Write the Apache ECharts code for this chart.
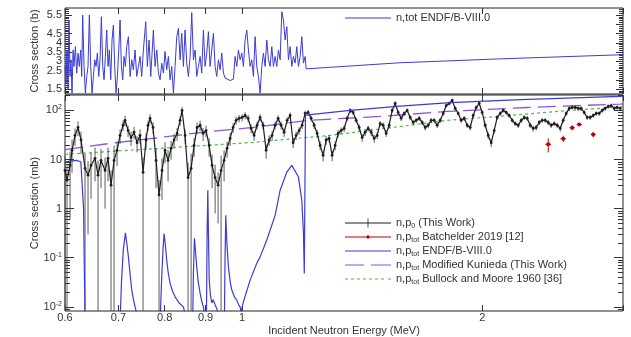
<!DOCTYPE html>
<html lang="en">
<head>
<meta charset="UTF-8">
<title>n,p cross section</title>
<script src="https://cdn.jsdelivr.net/npm/echarts@6.0.0/dist/echarts.min.js"></script>
<style>
  html, body { margin: 0; padding: 0; background: #fff; }
  #chart { width: 631px; height: 337px; }
</style>
</head>
<body>
<div id="chart"></div>
<script>
// top pad: n,tot ENDF/B-VIII.0, energy (MeV) and cross section (b)
const totEnergy = [
  0.6001, 0.6018, 0.6035, 0.6053, 0.6070, 0.6088, 0.6105, 0.6123, 0.6141, 0.6158,
  0.6182, 0.6206, 0.6230, 0.6253, 0.6278, 0.6296, 0.6314, 0.6339, 0.6363, 0.6388,
  0.6412, 0.6437, 0.6462, 0.6487, 0.6512, 0.6537, 0.6562, 0.6587, 0.6613, 0.6638,
  0.6664, 0.6690, 0.6715, 0.6741, 0.6767, 0.6793, 0.6819, 0.6846, 0.6872, 0.6899,
  0.6925, 0.6952, 0.6979, 0.7006, 0.7033, 0.7060, 0.7087, 0.7114, 0.7142, 0.7169,
  0.7204, 0.7239, 0.7274, 0.7308, 0.7344, 0.7379, 0.7415, 0.7450, 0.7486, 0.7522,
  0.7573, 0.7609, 0.7646, 0.7683, 0.7713, 0.7742, 0.7780, 0.7818, 0.7855, 0.7893,
  0.7931, 0.7969, 0.8007, 0.8046, 0.8085, 0.8124, 0.8163, 0.8203, 0.8242, 0.8282,
  0.8322, 0.8362, 0.8402, 0.8443, 0.8483, 0.8524, 0.8565, 0.8607, 0.8648, 0.8690,
  0.8732, 0.8774, 0.8816, 0.8859, 0.8901, 0.8944, 0.8987, 0.9031, 0.9074, 0.9118,
  0.9162, 0.9206, 0.9251, 0.9295, 0.9340, 0.9385, 0.9430, 0.9476, 0.9521, 0.9567,
  0.9660, 0.9753, 0.9800, 0.9847, 0.9895, 0.9942, 0.9991, 1.0038, 1.0087, 1.0136,
  1.0184, 1.0234, 1.0283, 1.0332, 1.0382, 1.0432, 1.0482, 1.0533, 1.0584, 1.0635,
  1.0686, 1.0738, 1.0789, 1.0842, 1.0894, 1.0946, 1.0999, 1.1052, 1.1105, 1.1159,
  1.1213, 1.1266, 1.1321, 1.1376, 1.1430, 1.1486, 1.1541, 1.1596, 1.1652, 1.1709,
  1.1765, 1.1822, 1.1879, 1.1936, 1.1994, 1.2028, 1.2063, 1.5776, 2.1053, 2.976,
  3.0
];
const totSigma = [
  2.72, 1.82, 3.61, 1.46, 5.23, 2.18, 3.08, 1.28, 3.61, 2.72,
  3.79, 2.36, 3.44, 2.72, 3.61, 2.18, 5.50, 2.72, 1.28, 2.18,
  2.72, 5.50, 2.72, 1.28, 2.18, 3.08, 2.72, 3.44, 2.18, 3.08,
  5.41, 2.72, 2.00, 3.26, 4.69, 2.72, 3.61, 2.00, 4.15, 4.96,
  2.72, 1.28, 2.18, 3.61, 5.23, 2.72, 2.00, 3.26, 2.72, 3.79,
  4.33, 2.18, 3.08, 2.54, 3.61, 2.18, 2.72, 3.26, 2.18, 3.61,
  5.14, 2.72, 4.15, 2.18, 3.44, 4.69, 2.72, 3.61, 2.36, 2.00,
  2.90, 2.36, 3.53, 2.54, 3.26, 2.00, 2.72, 1.28, 2.72, 4.33,
  4.78, 3.08, 4.51, 2.72, 4.69, 2.90, 2.18, 3.26, 5.63, 3.08,
  3.61, 2.18, 2.72, 3.26, 2.36, 4.69, 2.72, 3.44, 4.60, 2.72,
  3.61, 4.51, 2.72, 2.18, 3.08, 2.54, 3.44, 2.36, 2.09, 2.00,
  1.96, 2.03, 3.26, 2.72, 3.61, 3.08, 3.44, 2.72, 4.15, 4.69,
  3.61, 2.72, 3.08, 2.18, 4.33, 2.72, 2.18, 1.28, 2.72, 3.44,
  2.72, 4.15, 3.08, 2.72, 3.79, 2.72, 3.26, 2.72, 3.61, 3.08,
  5.68, 5.23, 4.15, 4.87, 3.08, 3.79, 2.72, 3.26, 2.90, 3.79,
  2.72, 3.26, 4.33, 2.90, 3.26, 2.59, 2.59, 2.92, 3.13, 3.35,
  3.35
];

// bottom pad: n,p0 (This Work), energy (MeV), cross section and error (mb)
const npEnergy = [
  0.600, 0.6035, 0.6088, 0.6123, 0.6176, 0.6230, 0.6284, 0.6357, 0.6412, 0.6468,
  0.6543, 0.6600, 0.6657, 0.6735, 0.6793, 0.6852, 0.6912, 0.6972, 0.7033, 0.7094,
  0.7135, 0.7197, 0.7259, 0.7322, 0.7386, 0.7450, 0.7515, 0.7580, 0.7624, 0.7668,
  0.7735, 0.7802, 0.7870, 0.7938, 0.8007, 0.8077, 0.8148, 0.8218, 0.8290, 0.8362,
  0.8410, 0.8483, 0.8557, 0.8632, 0.8707, 0.8782, 0.8859, 0.8936, 0.9013, 0.9092,
  0.9171, 0.9251, 0.9331, 0.9412, 0.9494, 0.9576, 0.9660, 0.9744, 0.9828, 0.9914,
  1.0000, 1.0087, 1.0175, 1.0263, 1.0352, 1.0442, 1.0533, 1.0625, 1.0717, 1.0810,
  1.0904, 1.0999, 1.1095, 1.1191, 1.1288, 1.1386, 1.1486, 1.1585, 1.1686, 1.1788,
  1.1890, 1.1994, 1.2098, 1.2203, 1.2309, 1.2416, 1.2524, 1.2633, 1.2743, 1.2853,
  1.2965, 1.3078, 1.3192, 1.3306, 1.3422, 1.3538, 1.3656, 1.3775, 1.3895, 1.4016,
  1.4138, 1.4260, 1.4384, 1.4510, 1.4636, 1.4763, 1.4891, 1.5021, 1.5151, 1.5283,
  1.5416, 1.5550, 1.5685, 1.5821, 1.5959, 1.6098, 1.6238, 1.6379, 1.6522, 1.6665,
  1.6810, 1.6956, 1.7103, 1.7252, 1.7402, 1.7553, 1.7707, 1.7860, 1.8016, 1.8172,
  1.8330, 1.8490, 1.8650, 1.8813, 1.8976, 1.9141, 1.9307, 1.9475, 1.9645, 1.9815,
  1.9986, 2.0160, 2.0336, 2.0512, 2.0691, 2.0871, 2.1053, 2.1235, 2.1420, 2.1606,
  2.1794, 2.1983, 2.2174, 2.2366, 2.2561, 2.2757, 2.2955, 2.3154, 2.3355, 2.3558,
  2.3763, 2.3969, 2.4178, 2.4388, 2.4600, 2.4813, 2.5032, 2.5247, 2.5466, 2.5688,
  2.5911, 2.6136, 2.6363, 2.6592, 2.6823, 2.7056, 2.7291, 2.7528, 2.7767, 2.8008,
  2.8252, 2.8497, 2.8745, 2.8994, 2.9246, 2.9500, 2.9763
];
const npSigma = [
  6.0, 3.8, 7.6, 15.4, 31, 45, 25, 6.6, 4.8, 7.6,
  10.6, 4.8, 9.6, 6.0, 10.6, 3.0, 9.6, 15.4, 31, 50,
  63, 39, 28, 36, 22, 31, 5.5, 25, 50, 69,
  45, 9.6, 1.9, 6.0, 15.4, 9.6, 16.9, 25, 34, 63,
  100, 31, 4.3, 6.6, 19.4, 45, 50, 34, 39, 19.4,
  7.6, 4.3, 3.0, 6.0, 9.6, 16.9, 27, 45, 63, 69,
  72, 79, 69, 43, 31, 50, 72, 50, 15.4, 25,
  31, 50, 69, 50, 36, 63, 79, 22, 31, 39,
  50, 87, 91, 69, 50, 34, 19.4, 12.2, 25, 27,
  12.2, 19.4, 34, 39, 43, 69, 100, 91, 63, 45,
  28, 36, 43, 36, 27, 31, 54, 50, 34, 50,
  100, 139, 91, 69, 87, 100, 72, 57, 63, 69,
  57, 45, 50, 63, 63, 50, 63, 87, 126, 139,
  160, 110, 87, 63, 69, 50, 45, 79, 115, 139,
  91, 50, 31, 22, 39, 72, 87, 100, 91, 79,
  63, 54, 50, 63, 72, 69, 50, 43, 45, 57,
  63, 63, 57, 50, 54, 50, 43, 63, 87, 110,
  115, 115, 110, 110, 91, 72, 72, 79, 87, 87,
  100, 110, 121, 126, 110, 115, 110
];
const npError = [
  6.0, 3.8, 7.0, 10, 12, 15, 12, 6.6, 4.5, 6,
  7, 4.8, 7, 5, 7, 3.0, 9.6, 8, 10, 12,
  15, 10, 9, 10, 8, 10, 5.5, 9, 12, 15,
  12, 7, 1.9, 4.5, 7, 6, 7, 8, 10, 14,
  18, 10, 4.3, 6.6, 8, 12, 12, 10, 10, 8,
  5, 3.5, 2.5, 6.0, 6, 6, 8, 10, 12, 12,
  12, 13, 12, 9, 7, 9, 12, 9, 5, 6,
  7, 9, 11, 9, 7, 10, 12, 5, 6, 7,
  8, 12, 12, 10, 8, 6, 4, 3, 5, 5,
  3, 4, 6, 6, 7, 9, 12, 11, 8, 7,
  5, 6, 6, 6, 5, 5, 7, 7, 5, 7,
  11, 14, 10, 8, 9, 10, 8, 7, 7, 8,
  7, 6, 6, 7, 7, 6, 7, 9, 12, 13,
  15, 11, 9, 7, 8, 6, 6, 8, 11, 13,
  9, 6, 5, 4, 5, 8, 9, 10, 9, 8,
  7, 6, 6, 7, 8, 8, 6, 6, 6, 7,
  7, 7, 7, 6, 6, 6, 6, 7, 9, 11,
  11, 11, 11, 11, 9, 8, 8, 8, 9, 9,
  10, 11, 12, 12, 11, 11, 11
];

// n,ptot Batchelder 2019
const batEnergy = [2.418, 2.525, 2.591, 2.644, 2.753];
const batSigma = [20.5, 26.6, 44.5, 51.9, 32.5];
const batError = [6.5, 4, 5, 4, 4];
const batEnergyError = [0.02, 0.02, 0.02, 0.02, 0.02];

// n,ptot ENDF/B-VIII.0
const endfEnergy = [
  0.600, 0.610, 0.620, 0.628, 0.6314, 0.6330, 0.6345, 0.636,
  0.703, 0.706, 0.710, 0.7142, 0.717, 0.7204, 0.724, 0.7274, 0.731, 0.7344, 0.740,
  0.789, 0.7925, 0.796, 0.7985, 0.801, 0.8046, 0.808, 0.8124, 0.818, 0.8242, 0.834, 0.8443, 0.850,
  0.867, 0.869, 0.8715, 0.874, 0.8774, 0.881, 0.8859, 0.890, 0.8944, 0.898,
  0.9020, 0.9040, 0.9058, 0.9075, 0.9095, 0.9125, 0.9162, 0.920, 0.925, 0.930, 0.935,
  0.950, 0.952, 0.954, 0.957, 0.9613, 0.966, 0.9707, 0.978, 0.9847, 0.990, 0.9942, 0.997,
  1.0038, 1.0234, 1.0432, 1.0533, 1.0738, 1.0999, 1.1159, 1.1376, 1.1541, 1.1765, 1.1879, 1.1936, 1.1965, 1.199,
  1.2005, 1.2063, 1.3656, 1.5776, 1.8224, 2.2304, 2.976, 3.0
];
const endfSigma = [
  9.0, 9.3, 9.6, 9.0, 8.4, 1.0, 0.05, 0.004,
  0.004, 0.03, 0.15, 0.32, 0.2, 0.104, 0.045, 0.022, 0.014, 0.010, 0.006,
  0.004, 0.03, 0.15, 0.31, 0.2, 0.089, 0.05, 0.030, 0.021, 0.016, 0.012, 0.010, 0.006,
  0.004, 0.05, 0.25, 0.14, 0.065, 0.033, 0.019, 0.013, 0.010, 0.006,
  0.004, 0.3, 2.37, 0.3, 0.035, 0.018, 0.012, 0.014, 0.011, 0.009, 0.006,
  0.004, 0.1, 0.73, 0.2, 0.065, 0.033, 0.022, 0.016, 0.0137, 0.011, 0.010, 0.008,
  0.0127, 0.035, 0.077, 0.104, 0.23, 0.73, 2.37, 5.57, 7.6, 4.4, 1.48, 0.31, 0.048, 0.05,
  80, 81, 100, 123, 145, 167, 193, 195
];

// n,ptot Modified Kunieda (This Work)
const kunEnergy = [0.600, 0.6833, 0.7893, 0.9118, 1.0323, 1.2063, 1.4891, 1.8067, 2.2757, 2.976, 3.0];
const kunSigma = [16, 21.3, 28.2, 37.4, 45.1, 62.7, 75.6, 95.4, 115, 135, 136];

// n,ptot Bullock and Moore 1960
const bulEnergy = [0.600, 0.7893, 1.0323, 1.2891, 1.8067, 2.5766, 3.0];
const bulSigma = [12.8, 16.9, 22.4, 31.1, 62.6, 100, 120];

// tick labels
const xTickValues = [0.6, 0.7, 0.8, 0.9, 1, 2, 3];
const xLabelValues = [0.6, 0.7, 0.8, 0.9, 1, 2];
const topLabelValues = [1.5, 2, 2.5, 3, 3.5, 4, 4.5, 5, 5.5];
const decadeValues = [-2, -1, 0, 1, 2];

const NAME_TOT = 'n,tot ENDF/B-VIII.0';
const NAME_NP0 = 'n,p0 (This Work)';
const NAME_BAT = 'n,ptot Batchelder 2019 [12]';
const NAME_ENDF = 'n,ptot ENDF/B-VIII.0';
const NAME_KUN = 'n,ptot Modified Kunieda (This Work)';
const NAME_BUL = 'n,ptot Bullock and Moore 1960 [36]';

const FONT = 'Liberation Sans, Arial, Helvetica, sans-serif';
const INK = '#333';
const BLACK = '#1e1e1e', BAR = '#4a4a4a', RED = '#c00000', BLUE = '#3c3cd2', PURPLE = '#8c55e0', GREEN = '#46be46';

const lg = Math.log10;
const X_MIN = lg(0.6), X_MAX = lg(3);
const Y_MIN = -2.085, Y_MAX = 2.315;
const T_MIN = 1.23, T_MAX = 5.88;

const topMinor = [];
for (let v = 13; v <= 58; v++) topMinor.push(v / 10);
const logMinor = [];
for (let n = -3; n <= 2; n++) {
  for (let k = 2; k <= 9; k++) {
    const v = n + lg(k);
    if (v > Y_MIN && v < Y_MAX) logMinor.push(v);
  }
}

const linPts = (xs, ys) => xs.map((x, i) => [lg(x), ys[i]]);
const logPts = (xs, ys) => xs.map((x, i) => [lg(x), lg(ys[i])]);
const lowEnd = v => v > 0 ? Math.max(lg(v), Y_MIN) : Y_MIN;

const npBars = npEnergy.map((x, i) => [lg(x), lowEnd(npSigma[i] - npError[i]), lg(npSigma[i] + npError[i])]);
const batBars = batEnergy.map((x, i) => [
  lg(x), lg(batSigma[i]),
  lg(batSigma[i] - batError[i]), lg(batSigma[i] + batError[i]),
  lg(x - batEnergyError[i]), lg(x + batEnergyError[i])
]);

function tickStyle(values, len) {
  return { show: true, inside: true, length: len, customValues: values, lineStyle: { color: INK, width: 1 } };
}

function xAxisFor(grid, pos, withLabels) {
  const ax = {
    gridIndex: grid, type: 'value', position: pos, min: X_MIN, max: X_MAX,
    axisLine: { show: false, onZero: false },
    splitLine: { show: false },
    axisTick: tickStyle(xTickValues.map(lg), 6),
    axisLabel: { show: false }
  };
  if (withLabels) {
    ax.axisLabel = {
      show: true, customValues: xLabelValues.map(lg),
      formatter: v => String(+Math.pow(10, v).toFixed(1)),
      color: INK, fontSize: 11, fontFamily: FONT, margin: 1,
      showMinLabel: true, showMaxLabel: true
    };
    ax.name = 'Incident Neutron Energy (MeV)';
    ax.nameLocation = 'middle';
    ax.nameGap = 13;
    ax.nameMoveOverlap = false;
    ax.nameTextStyle = { color: INK, fontSize: 11, fontFamily: FONT, verticalAlign: 'top', lineHeight: 13 };
  }
  return ax;
}

function yAxisFor(grid, pos, min, max, values, len, label, name) {
  const ax = {
    gridIndex: grid, type: 'value', position: pos, min: min, max: max,
    axisLine: { show: false, onZero: false },
    splitLine: { show: false },
    axisTick: tickStyle(values, len),
    axisLabel: { show: false }
  };
  if (label) ax.axisLabel = label;
  if (name) {
    ax.name = name;
    ax.nameLocation = 'middle';
    ax.nameGap = 25;
    ax.nameMoveOverlap = false;
    ax.nameTextStyle = { color: INK, fontSize: 11, fontFamily: FONT };
  }
  return ax;
}

const topLabel = {
  show: true, customValues: topLabelValues, formatter: v => String(v),
  color: INK, fontSize: 11, fontFamily: FONT, margin: 3,
  showMinLabel: true, showMaxLabel: true, hideOverlap: false
};
const decadeLabel = {
  show: true, customValues: decadeValues,
  formatter: v => {
    const n = Math.round(v);
    if (n === 0) return '1';
    if (n === 1) return '10';
    return '10{sup|' + n + '}';
  },
  color: INK, fontSize: 11, fontFamily: FONT, margin: 3, lineHeight: 13,
  showMinLabel: true, showMaxLabel: true,
  rich: { sup: { fontSize: 7, lineHeight: 7, verticalAlign: 'top', color: INK, fontFamily: FONT } }
};

const legendText = {
  color: INK, fontSize: 11, fontFamily: FONT, lineHeight: 14,
  rich: { sub: { fontSize: 7, lineHeight: 6, verticalAlign: 'bottom', color: INK, fontFamily: FONT } }
};

const gridBase = {
  left: 65, width: 558, show: true, borderColor: '#222', borderWidth: 1,
  backgroundColor: 'transparent', containLabel: false, outerBoundsMode: 'none'
};

const chart = echarts.init(document.getElementById('chart'));
chart.setOption({
  animation: false,
  backgroundColor: '#fff',
  textStyle: { fontFamily: FONT },
  grid: [
    Object.assign({ top: 8, height: 86 }, gridBase),
    Object.assign({ top: 95, height: 216 }, gridBase)
  ],
  xAxis: [
    xAxisFor(0, 'bottom', false),
    xAxisFor(0, 'top', false),
    xAxisFor(1, 'bottom', true),
    xAxisFor(1, 'top', false)
  ],
  yAxis: [
    yAxisFor(0, 'left', T_MIN, T_MAX, topLabelValues, 7, topLabel, 'Cross section (b)'),
    yAxisFor(0, 'left', T_MIN, T_MAX, topMinor, 4),
    yAxisFor(0, 'right', T_MIN, T_MAX, topLabelValues, 7),
    yAxisFor(0, 'right', T_MIN, T_MAX, topMinor, 4),
    yAxisFor(1, 'left', Y_MIN, Y_MAX, decadeValues, 9, decadeLabel, 'Cross section (mb)'),
    yAxisFor(1, 'left', Y_MIN, Y_MAX, logMinor, 5),
    yAxisFor(1, 'right', Y_MIN, Y_MAX, decadeValues, 9),
    yAxisFor(1, 'right', Y_MIN, Y_MAX, logMinor, 5)
  ],
  legend: [
    {
      data: [{ name: NAME_TOT, icon: 'path://M0,0H46V1.1H0Z', itemStyle: { color: BLUE, borderWidth: 0 } }],
      left: 345, top: 11, padding: 0, itemWidth: 46, itemHeight: 9, selectedMode: false,
      textStyle: { color: INK, fontSize: 11, fontFamily: FONT, lineHeight: 14 }
    },
    {
      data: [
        { name: NAME_NP0, icon: 'path://M0,4.1H46V4.9H0Z M22.6,0H23.4V9H22.6Z', itemStyle: { color: BLACK, borderWidth: 0 } },
        { name: NAME_BAT, icon: 'path://M0,1.8H21.4V2.6H0Z M24.6,1.8H46V2.6H24.6Z M21.2,2.2A1.8,1.8,0,1,0,24.8,2.2A1.8,1.8,0,1,0,21.2,2.2Z', itemStyle: { color: RED, borderWidth: 0 } },
        { name: NAME_ENDF, icon: 'path://M0,0H46V1.1H0Z', itemStyle: { color: BLUE, borderWidth: 0 } },
        { name: NAME_KUN, icon: 'path://M0,0H19V1.2H0Z M26,0H46V1.2H26Z', itemStyle: { color: PURPLE, borderWidth: 0 } },
        { name: NAME_BUL, icon: 'path://M0,0H3V1H0Z M6,0H9V1H6Z M12,0H15V1H12Z M18,0H21V1H18Z M24,0H27V1H24Z M30,0H33V1H30Z M36,0H39V1H36Z M43,0H46V1H43Z', itemStyle: { color: GREEN, borderWidth: 0 } }
      ],
      orient: 'vertical', left: 345, top: 216, padding: 0, itemWidth: 46, itemHeight: 9, itemGap: 0,
      selectedMode: false,
      formatter: name => name.replace(/^n,p(0|tot) /, 'n,p{sub|$1} '),
      textStyle: legendText
    }
  ],
  series: [
    {
      name: NAME_TOT, type: 'line', xAxisIndex: 0, yAxisIndex: 0,
      data: linPts(totEnergy, totSigma), symbol: 'none',
      lineStyle: { color: BLUE, width: 1 }, itemStyle: { color: BLUE }, z: 5
    },
    {
      name: NAME_BUL, type: 'line', xAxisIndex: 2, yAxisIndex: 4,
      data: logPts(bulEnergy, bulSigma), symbol: 'none',
      lineStyle: { color: GREEN, width: 1.2, type: [3, 3] }, itemStyle: { color: GREEN }, z: 2
    },
    {
      name: NAME_KUN, type: 'line', xAxisIndex: 2, yAxisIndex: 4,
      data: logPts(kunEnergy, kunSigma), symbol: 'none',
      lineStyle: { color: PURPLE, width: 1.3, type: [18, 7] }, itemStyle: { color: PURPLE }, z: 2
    },
    {
      type: 'custom', xAxisIndex: 2, yAxisIndex: 4, data: npBars, silent: true, z: 3,
      encode: { x: 0, y: [1, 2] },
      renderItem: (params, api) => {
        const a = api.coord([api.value(0), api.value(1)]);
        const b = api.coord([api.value(0), api.value(2)]);
        return { type: 'line', shape: { x1: a[0], y1: a[1], x2: b[0], y2: b[1] }, style: { stroke: BAR, lineWidth: 0.9 } };
      }
    },
    {
      name: NAME_NP0, type: 'line', xAxisIndex: 2, yAxisIndex: 4,
      data: logPts(npEnergy, npSigma), symbol: 'circle', symbolSize: 2.8, showAllSymbol: true,
      lineStyle: { color: BLACK, width: 1.2 }, itemStyle: { color: BLACK }, z: 4
    },
    {
      name: NAME_ENDF, type: 'line', xAxisIndex: 2, yAxisIndex: 4,
      data: logPts(endfEnergy, endfSigma), symbol: 'none',
      lineStyle: { color: BLUE, width: 1.2 }, itemStyle: { color: BLUE }, z: 5
    },
    {
      type: 'custom', xAxisIndex: 2, yAxisIndex: 4, data: batBars, silent: true, z: 6,
      encode: { x: [0, 4, 5], y: [1, 2, 3] },
      renderItem: (params, api) => {
        const x = api.value(0), y = api.value(1);
        const v1 = api.coord([x, api.value(2)]), v2 = api.coord([x, api.value(3)]);
        const h1 = api.coord([api.value(4), y]), h2 = api.coord([api.value(5), y]);
        const st = { stroke: RED, lineWidth: 1 };
        return {
          type: 'group', children: [
            { type: 'line', shape: { x1: v1[0], y1: v1[1], x2: v2[0], y2: v2[1] }, style: st },
            { type: 'line', shape: { x1: h1[0], y1: h1[1], x2: h2[0], y2: h2[1] }, style: st }
          ]
        };
      }
    },
    {
      name: NAME_BAT, type: 'line', xAxisIndex: 2, yAxisIndex: 4,
      data: logPts(batEnergy, batSigma), symbol: 'circle', symbolSize: 4,
      lineStyle: { color: RED, opacity: 0 }, itemStyle: { color: RED }, z: 6
    }
  ]
});
</script>
</body>
</html>
